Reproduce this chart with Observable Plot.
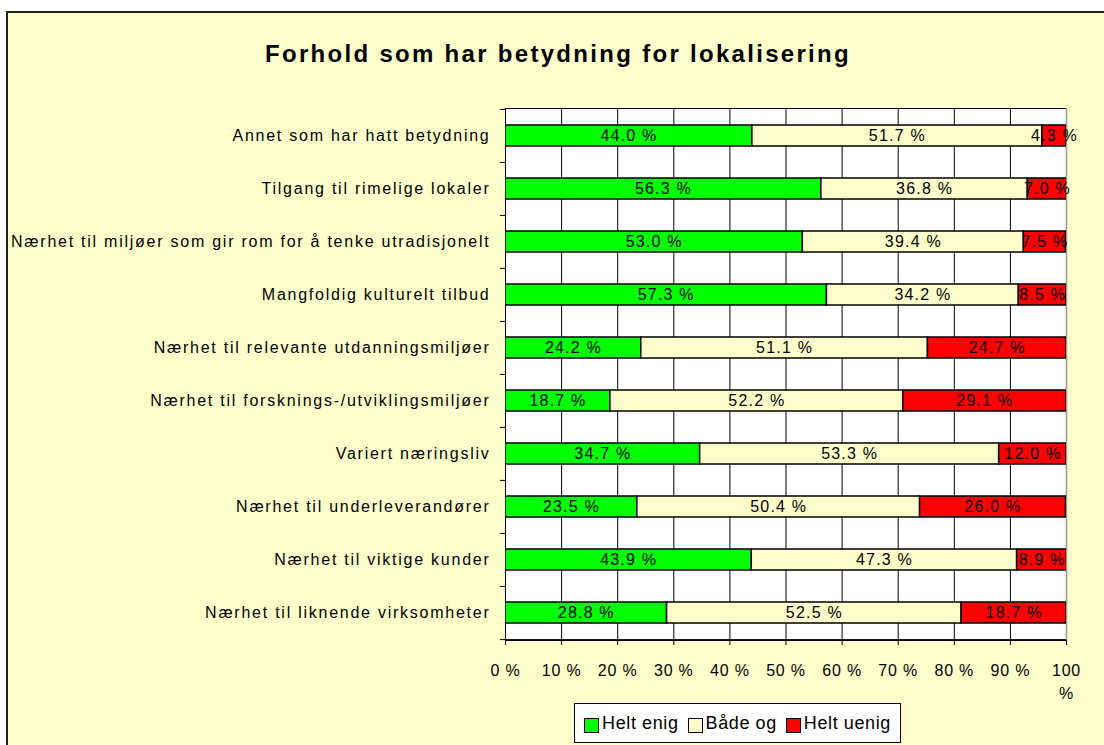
<!DOCTYPE html>
<html>
<head>
<meta charset="utf-8">
<script src="https://cdn.jsdelivr.net/npm/d3@7"></script>
<script src="https://cdn.jsdelivr.net/npm/@observablehq/plot@0.6"></script>
<style>
  html, body { margin: 0; padding: 0; background: #ffffff; }
  #page { position: relative; width: 1104px; height: 745px; overflow: hidden; font-family: "Liberation Sans", Arial, sans-serif; }
  #frame { position: absolute; left: 6px; top: 11px; width: 1120px; height: 760px; background: #FFFFCC; border-left: 2px solid #222; border-top: 2px solid #222; }
  #title { position: absolute; left: 0; top: 40px; width: 1116px; text-align: center; font-weight: bold; font-size: 24px; letter-spacing: 2.3px; color: #000; }
  #chart { position: absolute; left: 0; top: 0; }
  #legend { position: absolute; left: 574px; top: 703px; width: 325px; height: 38px; background: #fff; border: 1px solid #000; display: flex; align-items: center; justify-content: center; gap: 9px; font-size: 18px; letter-spacing: 0.6px; }
  #legend .item { display: flex; align-items: center; gap: 3px; }
  #legend .sw { width: 13px; height: 13px; border: 1px solid #000; display: inline-block; margin-top: 4px; }
</style>
</head>
<body>
<div id="page">
  <div id="frame"></div>
  <div id="title">Forhold som har betydning for lokalisering</div>
  <div id="chart"></div>
  <div id="legend"></div>
</div>
<script>
const categories = [
  "Annet som har hatt betydning",
  "Tilgang til rimelige lokaler",
  "Nærhet til miljøer som gir rom for å tenke utradisjonelt",
  "Mangfoldig kulturelt tilbud",
  "Nærhet til relevante utdanningsmiljøer",
  "Nærhet til forsknings-/utviklingsmiljøer",
  "Variert næringsliv",
  "Nærhet til underleverandører",
  "Nærhet til viktige kunder",
  "Nærhet til liknende virksomheter"
];
const series = ["Helt enig", "Både og", "Helt uenig"];
const heltEnig  = [44.0, 56.3, 53.0, 57.3, 24.2, 18.7, 34.7, 23.5, 43.9, 28.8];
const baadeOg   = [51.7, 36.8, 39.4, 34.2, 51.1, 52.2, 53.3, 50.4, 47.3, 52.5];
const heltUenig = [4.3, 7.0, 7.5, 8.5, 24.7, 29.1, 12.0, 26.0, 8.9, 18.7];
const colors = ["#00FF00", "#FFFFCC", "#FF0000"];
const xTicks = [0, 10, 20, 30, 40, 50, 60, 70, 80, 90, 100];

const valuesBySeries = [heltEnig, baadeOg, heltUenig];
const data = [];
categories.forEach((c, i) => {
  series.forEach((s, j) => data.push({category: c, type: s, value: valuesBySeries[j][i]}));
});

const W = 1104, H = 745;
const mL = 505, mR = 38, mT = 108, mB = 105;
const step = (H - mT - mB) / categories.length;

const chart = Plot.plot({
  width: W, height: H,
  marginLeft: mL, marginRight: mR, marginTop: mT, marginBottom: mB,
  style: {background: "transparent", fontFamily: "'Liberation Sans', Arial, sans-serif", color: "#000"},
  x: {domain: [0, 100]},
  y: {domain: categories, paddingInner: 0.6, paddingOuter: 0.3},
  color: {domain: series, range: colors},
  marks: [
    Plot.frame({fill: "white", stroke: "black", strokeWidth: 1}),
    Plot.ruleX(xTicks.slice(1, -1), {stroke: "black", strokeWidth: 1}),
    Plot.ruleX([100], {stroke: "#999", strokeWidth: 1.5}),
    Plot.barX(data, {x: "value", y: "category", fill: "type", z: "type", order: series, stroke: "black", strokeWidth: 1.5, clip: true}),
    Plot.text(data, Plot.stackX({x: "value", y: "category", z: "type", order: series,
      text: d => d.value.toFixed(1) + " %", fill: "black", fontSize: 16})),
    Plot.ruleY(categories, {y: d => d, dy: -step / 2, x1: -0.9, x2: 0, stroke: "black"}),
    Plot.ruleY(categories.slice(-1), {y: d => d, dy: step / 2, x1: -0.9, x2: 0, stroke: "black"}),
    Plot.axisY({tickSize: 0, tickPadding: 15, fontSize: 16, label: null}),
    Plot.axisX({ticks: xTicks, tickSize: 5, tickPadding: 14, fontSize: 16, label: null, lineHeight: 1.45,
      tickFormat: d => d === 100 ? "100\n%" : d + " %"}),
    Plot.ruleY(categories.slice(-1), {y: d => d, dy: step / 2, stroke: "black", strokeWidth: 1})
  ]
});
document.getElementById("chart").appendChild(chart);

const svg = d3.select(chart);
svg.selectAll('g[aria-label="y-axis tick label"] text').style("letter-spacing", "1.75px");
svg.selectAll('g[aria-label="x-axis tick label"] text').style("letter-spacing", "0.8px");
svg.selectAll('g[aria-label="text"] text').style("letter-spacing", "1.2px");

const legend = d3.select("#legend");
series.forEach((s, i) => {
  const it = legend.append("div").attr("class", "item");
  it.append("span").attr("class", "sw").style("background", colors[i]);
  it.append("span").text(s);
});
</script>
</body>
</html>
